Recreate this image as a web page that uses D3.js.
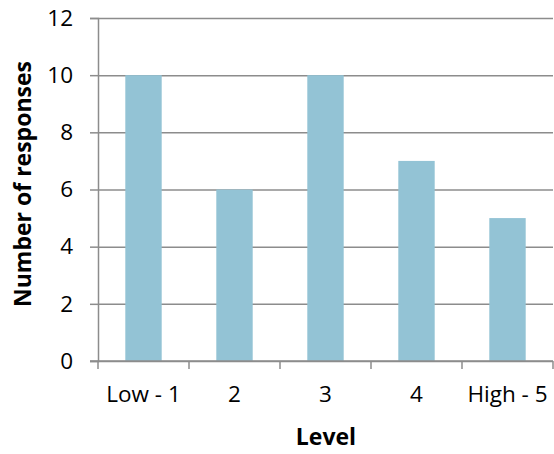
<!DOCTYPE html>
<html><head><meta charset="utf-8">
<script src="https://cdn.jsdelivr.net/npm/d3@7"></script>
<style>body{margin:0;background:#fff}svg{display:block}text{font-family:"Open Sans",sans-serif;fill:#000}</style>
</head><body><svg id="c" width="554" height="454"></svg>
<script>
const categories = ["Low - 1", "2", "3", "4", "High - 5"];
const values = [10, 6, 10, 7, 5];
const yTicks = [0, 2, 4, 6, 8, 10, 12];

const svg = d3.select("#c");
const m = {l: 98, r: 553, t: 18, b: 361};
const x = d3.scaleBand().domain(categories).range([m.l, m.r]).paddingInner(0.6).paddingOuter(0.3);
const xb = d3.scaleBand().domain(categories).range([m.l, m.r]);
const y = d3.scaleLinear().domain([0, 12]).range([m.b, m.t]);
const grey = "#8c8c8c";

// gridlines + y axis
const ya = svg.append("g").attr("transform", `translate(${m.l},0)`)
  .call(d3.axisLeft(y).tickValues(yTicks).tickSize(8).tickPadding(17).tickFormat(d3.format("d")));
ya.select(".domain").attr("stroke", grey).attr("stroke-width", 1.5);
ya.selectAll(".tick line").attr("stroke", grey).attr("stroke-width", 1.5);
ya.selectAll(".tick").append("line").attr("x1", 0).attr("x2", m.r - m.l).attr("stroke", grey).attr("stroke-width", 1.5);
ya.selectAll(".tick text").attr("font-size", 22.5).attr("font-family", "Open Sans").attr("fill", "#000");

// bars
svg.append("g").selectAll("rect").data(values).join("rect")
  .attr("x", (d, i) => x(categories[i]))
  .attr("width", x.bandwidth())
  .attr("y", d => y(d))
  .attr("height", d => y(0) - y(d))
  .attr("fill", "#93c3d5");

// x axis
const xa = svg.append("g").attr("transform", `translate(0,${m.b})`);
xa.append("line").attr("x1", m.l - 8).attr("x2", m.r).attr("stroke", grey).attr("stroke-width", 1.5);
xa.selectAll("line.t").data(categories.concat(["end"])).join("line").attr("class", "t")
  .attr("x1", (d, i) => i < categories.length ? xb(d) : m.r)
  .attr("x2", (d, i) => i < categories.length ? xb(d) : m.r)
  .attr("y1", 0).attr("y2", 8).attr("stroke", grey).attr("stroke-width", 1.5);
xa.selectAll("text").data(categories).join("text")
  .attr("x", d => xb(d) + xb.bandwidth() / 2).attr("y", 41)
  .attr("text-anchor", "middle").attr("font-size", 22.5).text(d => d);

// titles
svg.append("text").attr("x", 326).attr("y", 445).attr("text-anchor", "middle")
  .attr("font-size", 23).attr("font-weight", "bold").text("Level");
svg.append("text").attr("transform", "translate(31,184) rotate(-90)").attr("text-anchor", "middle")
  .attr("font-size", 23).attr("font-weight", "bold").text("Number of responses");
</script></body></html>
